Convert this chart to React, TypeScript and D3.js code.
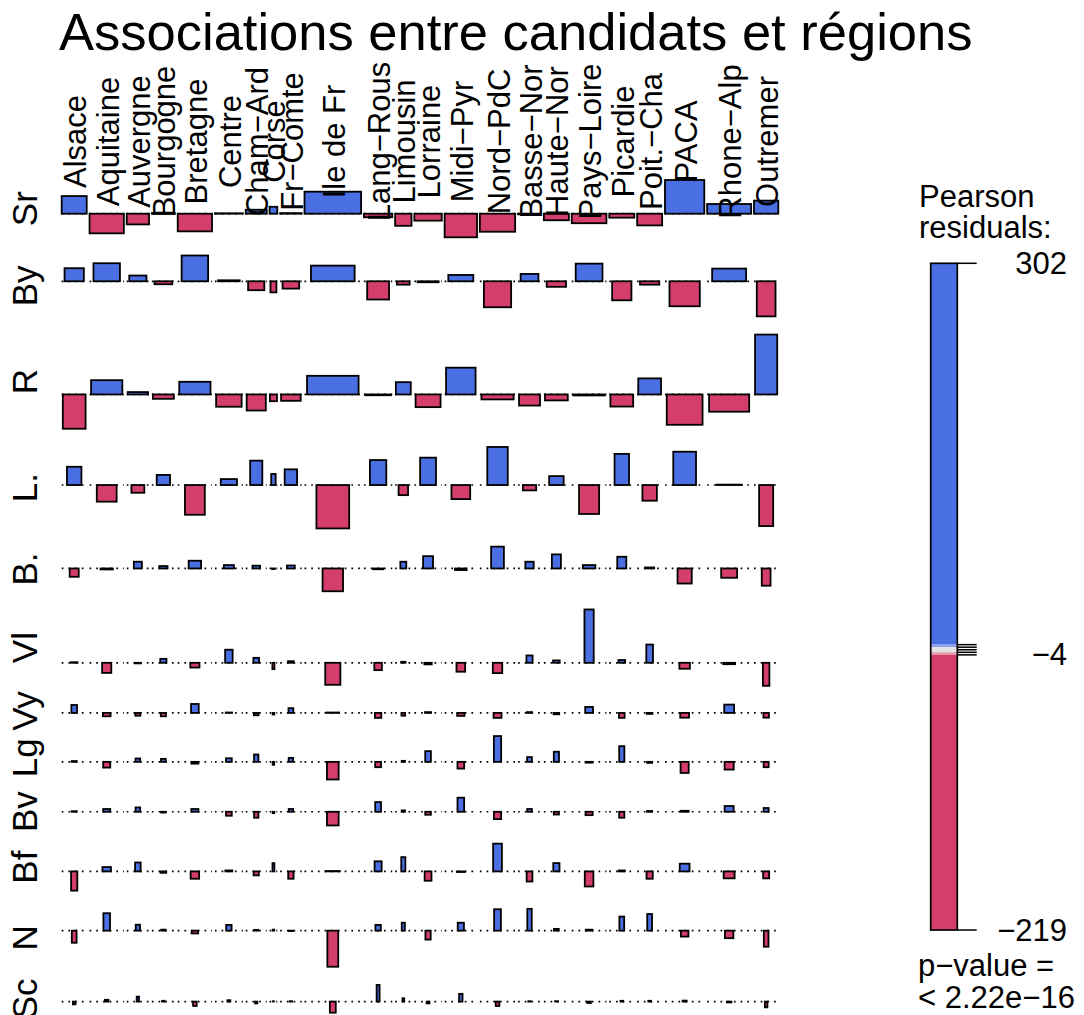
import React, { useRef, useEffect } from 'react';
import * as d3 from 'd3';

// Régions (colonnes)
const regions = ["Alsace", "Aquitaine", "Auvergne", "Bourgogne", "Bretagne", "Centre", "Cham−Ard", "Corse",
    "Fr−Comte", "Ile de Fr", "Lang−Rous", "Limousin", "Lorraine", "Midi−Pyr", "Nord−PdC", "Basse−Nor",
    "Haute−Nor", "Pays−Loire", "Picardie", "Poit.−Cha", "PACA", "Rhone−Alp", "Outremer"];
// suffrages exprimés par région (milliers, estimés)
const regionVotes = [1073, 2020, 854, 909, 2020, 1346, 757, 102, 794, 5500, 1375, 462, 1289, 1802, 2139,
    909, 1073, 2067, 1073, 1073, 2651, 3324, 1014];

// Candidats (lignes)
const candidates = ["Sr", "By", "R", "L.", "B.", "Vl", "Vy", "Lg", "Bv", "Bf", "N", "Sc"];
const candidateShare = [31.18, 18.57, 25.87, 10.44, 4.08, 2.23, 1.57, 1.33, 1.32, 1.93, 1.15, 0.34];

// Résidus de Pearson, une liste par candidat (ordre des régions)
const resSr = [89, -99, -54, 3, -89, 2, 20, 35, 3, 111, -18, -61, -35, -119, -91, -3, -33, -48, -20, -59, 170, 49, 66];
const resBy = [66, 91, 29, -15, 130, 5, -45, -56, -37, 79, -92, -17, -5, 32, -131, 37, -28, 89, -96, -17, -126, 64, -177];
const resR = [-173, 72, 12, -22, 64, -62, -81, -34, -32, 94, -4, 62, -64, 135, -25, -56, -30, -5, -61, 81, -153, -87, 302];
const resL = [92, -84, -39, 51, -150, 30, 123, 56, 79, -219, 126, -51, 138, -71, 192, -27, 45, -146, 157, -79, 168, 2, -207];
const resB = [-42, -5, 34, 12, 39, 17, 14, -3, 15, -115, -4, 34, 62, -8, 110, 34, 71, 17, 59, 5, -76, -47, -87];
const resVl = [3, -51, -3, 20, -24, 66, 25, -32, 8, -111, -37, 5, -8, -45, -52, 37, 12, 269, 14, 92, -30, -7, -116];
const resVy = [40, -17, -14, -17, 45, 2, -12, -8, 24, 2, -25, -14, 4, -15, -25, 4, -7, 30, -25, -5, -24, 42, -24];
const resLg = [4, -29, 17, 15, -9, 18, 37, -15, 20, -89, -27, 5, 54, -34, 130, 24, 51, -4, 79, -5, -56, -39, -27];
const resBv = [3, 14, 22, -4, 14, -20, -30, -7, 14, -69, 49, 7, -15, 71, -37, 14, -14, -17, -30, 4, 5, 29, 19];
const resBf = [-97, 22, 45, -7, -37, 5, -20, 42, -37, 2, 51, 72, -47, -3, 140, -51, 42, -76, 5, -37, 39, -35, -35];
const resN = [-61, 88, 30, 5, -14, 29, 4, 5, -2, -182, 29, 40, -45, 40, 108, 110, 9, 5, 71, 84, -30, -38, -81];
const resSc = [-14, 9, 25, 4, -22, 7, -9, 2, 2, -56, 84, 17, -9, 39, -22, 2, 2, -7, 4, 4, 5, -4, -29];

const residuals = [resSr, resBy, resR, resL, resB, resVl, resVy, resLg, resBv, resBf, resN, resSc];

// Légende
const legendTicks = [302, 4, 2, 0, -2, -4, -219];
const legendLabels = [302, -4, -219];
const cutoffs = [2, 4];
const pValueText = ["p−value =", "< 2.22e−16"];

const FONT = "'Liberation Sans', Arial, Helvetica, sans-serif";

const App: React.FC = () => {
    const ref = useRef<SVGSVGElement>(null);

    useEffect(() => {
        const svg = d3.select(ref.current);
        svg.selectAll("*").remove();

        const blue = "#4A6FE3", lightBlue = "#8FA2EA", grey = "#E2E2E2", lightRed = "#E597AA", red = "#D33F6A";
        const fillFor = (r: number) => r > cutoffs[1] ? blue : r > cutoffs[0] ? lightBlue
            : r < -cutoffs[1] ? red : r < -cutoffs[0] ? lightRed : grey;

        // zone du graphique
        const plot = { left: 61.7, right: 778.3, top: 180, bottom: 1012.7 };
        const colGap = 2.85, rowGap = 18.2;

        // colonnes : largeur proportionnelle à sqrt(effectif)
        const colW = regionVotes.map(v => Math.sqrt(v));
        const kx = (plot.right - plot.left - colGap * (regions.length - 1)) / d3.sum(colW);
        const colLeft: number[] = [];
        let cx = plot.left;
        colW.forEach(w => { colLeft.push(cx); cx += w * kx + colGap; });
        const colWidth = colW.map(w => w * kx);

        // lignes : hauteur proportionnelle à l'étendue des résidus
        const rowRange = residuals.map(r => [Math.min(0, d3.min(r)!), Math.max(0, d3.max(r)!)]);
        const ky = (plot.bottom - plot.top - rowGap * (candidates.length - 1)) / d3.sum(rowRange, r => r[1] - r[0]);
        const rowScales: d3.ScaleLinear<number, number>[] = [];
        let cy = plot.top;
        rowRange.forEach(rr => {
            const h = (rr[1] - rr[0]) * ky;
            rowScales.push(d3.scaleLinear().domain(rr).range([cy + h, cy]));
            cy += h + rowGap;
        });

        const maxShare = d3.max(candidateShare)!;

        // lignes de base pointillées
        candidates.forEach((c, i) => {
            const y0 = rowScales[i](0);
            svg.append("g").selectAll("line")
                .data(regions)
                .enter()
                .append("line")
                .attr("x1", (d, j) => colLeft[j])
                .attr("x2", (d, j) => colLeft[j] + colWidth[j])
                .attr("y1", y0)
                .attr("y2", y0)
                .attr("stroke", "black")
                .attr("stroke-width", 1.7)
                .attr("stroke-dasharray", "1.7 5");
        });

        // barres
        candidates.forEach((c, i) => {
            const ys = rowScales[i];
            const f = Math.sqrt(candidateShare[i] / maxShare);
            svg.append("g").selectAll("rect")
                .data(residuals[i])
                .enter()
                .append("rect")
                .attr("x", (d, j) => colLeft[j] + colWidth[j] * (1 - f) / 2)
                .attr("width", (d, j) => colWidth[j] * f)
                .attr("y", d => Math.min(ys(0), ys(d)))
                .attr("height", d => Math.abs(ys(d) - ys(0)))
                .attr("fill", d => fillFor(d))
                .attr("stroke", "black")
                .attr("stroke-width", 1.8);
        });

        // étiquettes des régions
        svg.append("g").selectAll("text")
            .data(regions)
            .enter()
            .append("text")
            .attr("transform", (d, j) => `translate(${colLeft[j] + colWidth[j] / 2 + 1.5},141.5) rotate(-90)`)
            .attr("text-anchor", "middle")
            .attr("dominant-baseline", "central")
            .style("font-family", FONT)
            .style("font-size", "31px")
            .text(d => d);

        // étiquettes des candidats
        svg.append("g").selectAll("text")
            .data(candidates)
            .enter()
            .append("text")
            .attr("transform", (d, i) => {
                const r = rowScales[i].range();
                return `translate(24,${(r[0] + r[1]) / 2}) rotate(-90)`;
            })
            .attr("text-anchor", "middle")
            .attr("dominant-baseline", "central")
            .style("font-family", FONT)
            .style("font-size", "35px")
            .text(d => d);

        // titre
        svg.append("text")
            .attr("x", 59)
            .attr("y", 50)
            .style("font-family", FONT)
            .style("font-size", "52.5px")
            .text("Associations entre candidats et régions");

        // légende
        const [rMin, rMax] = d3.extent(residuals.flat()) as [number, number];
        const ly = d3.scaleLinear().domain([rMin, rMax]).range([930, 263.3]);
        const lx0 = 930.7, lx1 = 957.3;
        const bands = [
            [cutoffs[1], rMax, blue], [cutoffs[0], cutoffs[1], lightBlue], [-cutoffs[0], cutoffs[0], grey],
            [-cutoffs[1], -cutoffs[0], lightRed], [rMin, -cutoffs[1], red]
        ] as [number, number, string][];
        const leg = svg.append("g");
        leg.selectAll("rect.band")
            .data(bands)
            .enter()
            .append("rect")
            .attr("class", "band")
            .attr("x", lx0)
            .attr("width", lx1 - lx0)
            .attr("y", d => ly(d[1]))
            .attr("height", d => ly(d[0]) - ly(d[1]))
            .attr("fill", d => d[2]);
        leg.append("rect")
            .attr("x", lx0)
            .attr("y", ly(rMax))
            .attr("width", lx1 - lx0)
            .attr("height", ly(rMin) - ly(rMax))
            .attr("fill", "none")
            .attr("stroke", "black")
            .attr("stroke-width", 1.7);
        leg.selectAll("line.tick")
            .data(legendTicks)
            .enter()
            .append("line")
            .attr("class", "tick")
            .attr("x1", lx1)
            .attr("x2", 976.7)
            .attr("y1", d => ly(d))
            .attr("y2", d => ly(d))
            .attr("stroke", "black")
            .attr("stroke-width", 1.5);
        leg.selectAll("text.lab")
            .data(legendLabels)
            .enter()
            .append("text")
            .attr("class", "lab")
            .attr("x", 1067)
            .attr("y", d => ly(d))
            .attr("text-anchor", "end")
            .attr("dominant-baseline", "central")
            .style("font-family", FONT)
            .style("font-size", "31px")
            .text(d => d < 0 ? "−" + Math.abs(d) : String(d));
        leg.selectAll("text.head")
            .data(["Pearson", "residuals:"])
            .enter()
            .append("text")
            .attr("class", "head")
            .attr("x", 919)
            .attr("y", (d, i) => 207.3 + i * 31)
            .style("font-family", FONT)
            .style("font-size", "31px")
            .text(d => d);
        leg.selectAll("text.pval")
            .data(pValueText)
            .enter()
            .append("text")
            .attr("class", "pval")
            .attr("x", 918)
            .attr("y", (d, i) => 976 + i * 32)
            .style("font-family", FONT)
            .style("font-size", "31px")
            .text(d => d);
    }, []);

    return <svg ref={ref} width={1084} height={1015}
        style={{ position: 'absolute', left: 0, top: 0, background: '#fff' }} />;
};

export default App;
